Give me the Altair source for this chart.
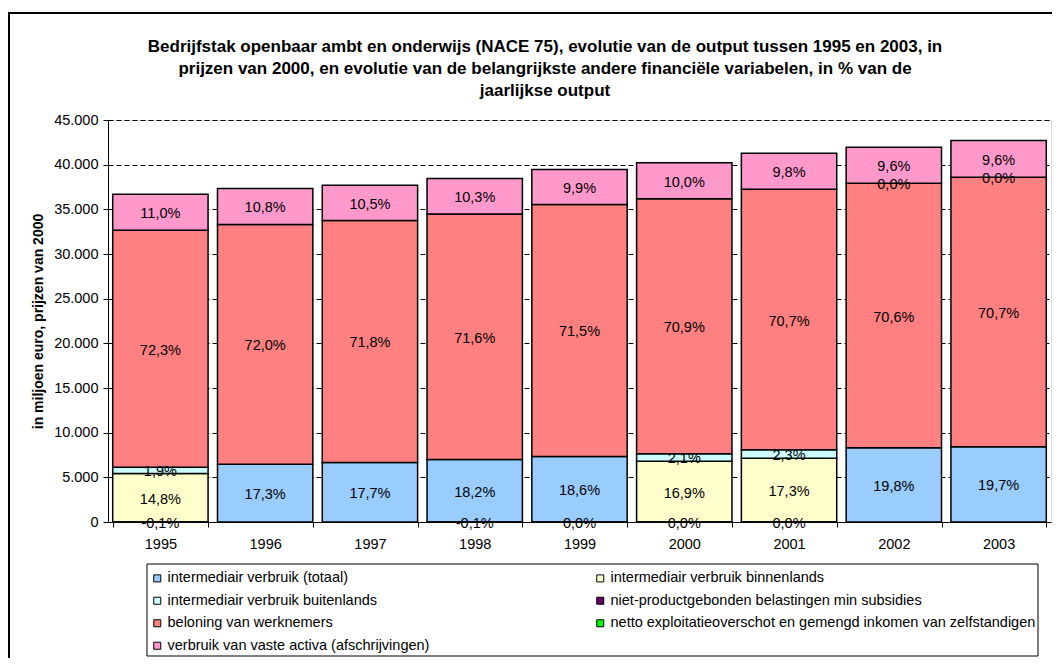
import altair as alt
import pandas as pd

# ---- data ----
years = ["1995", "1996", "1997", "1998", "1999", "2000", "2001", "2002", "2003"]
output_total = [36700, 37300, 37700, 38400, 39450, 40250, 41250, 41950, 42700]  # miljoen euro

series = [
    "intermediair verbruik (totaal)",
    "intermediair verbruik binnenlands",
    "intermediair verbruik buitenlands",
    "niet-productgebonden belastingen min subsidies",
    "beloning van werknemers",
    "netto exploitatieoverschot en gemengd inkomen van zelfstandigen",
    "verbruik van vaste activa (afschrijvingen)",
]
colors = ["#99CCFF", "#FFFFCC", "#CCFFFF", "#660066", "#FF8080", "#00FF00", "#FF99CC"]

pct_totaal = [None, 17.3, 17.7, 18.2, 18.6, None, None, 19.8, 19.7]
pct_binnen = [14.8, None, None, None, None, 16.9, 17.3, None, None]
pct_buiten = [1.9, None, None, None, None, 2.1, 2.3, None, None]
pct_niet = [-0.1, None, None, -0.1, -0.04, -0.04, -0.04, None, None]
pct_beloning = [72.3, 72.0, 71.8, 71.6, 71.5, 70.9, 70.7, 70.6, 70.7]
pct_netto = [None, None, None, None, None, None, None, 0.0, 0.0]
pct_afschr = [11.0, 10.8, 10.5, 10.3, 9.9, 10.0, 9.8, 9.6, 9.6]

all_pct = [pct_totaal, pct_binnen, pct_buiten, pct_niet, pct_beloning, pct_netto, pct_afschr]

rows = []
for s, (name, pcts) in enumerate(zip(series, all_pct)):
    for i, y in enumerate(years):
        p = pcts[i]
        if p is None:
            continue
        rows.append({"year": y, "series": name, "order": s, "pct": p,
                     "value": p / 100.0 * output_total[i]})
df = pd.DataFrame(rows)

# legend fills column by column: order so that rows read pairwise as in the reference
legend_order = [0, 2, 4, 6, 1, 3, 5]
legend_domain = [series[i] for i in legend_order]
legend_range = [colors[i] for i in legend_order]

title_lines = [
    "Bedrijfstak openbaar ambt en onderwijs (NACE 75), evolutie van de output tussen 1995 en 2003, in",
    "prijzen van 2000, en evolutie van de belangrijkste andere financiële variabelen, in % van de",
    "jaarlijkse output",
]

FONT = "Liberation Sans"
W, H = 943, 402

base = alt.Chart(df).transform_stack(
    stack="value", groupby=["year"], as_=["y0", "y1"],
    sort=[alt.SortField("order", order="ascending")]
).transform_calculate(
    mid="(datum.y0 + datum.y1) / 2",
    label="replace(replace(format(abs(datum.pct) < 0.05 ? 0 : datum.pct, '.1f'), '.', ','), '\u2212', '-') + '%'",
)

xenc = alt.X("year:N", sort=years, title=None,
             scale=alt.Scale(paddingInner=0.09, paddingOuter=0.045),
             axis=alt.Axis(labelAngle=0, tickBand="extent", tickSize=5, tickColor="black",
                           domainColor="black", labelFontSize=14.5, labelFont=FONT,
                           labelColor="black", labelPadding=10, grid=False))

bars = base.mark_bar(stroke="black", strokeWidth=1.5).encode(
    x=xenc,
    y=alt.Y("y0:Q", title="in miljoen euro, prijzen van 2000",
            scale=alt.Scale(domain=[0, 45000], nice=False),
            axis=alt.Axis(values=list(range(0, 45001, 5000)),
                          labelExpr="replace(format(datum.value, ',d'), ',', '.')",
                          labelFontSize=14.5, labelFont=FONT, labelColor="black",
                          labelPadding=5, tickSize=5, tickColor="black",
                          domainColor="black", grid=True, gridColor="black",
                          gridDash=[5, 3], gridWidth=1,
                          titleFont=FONT, titleFontSize=14, titleFontWeight="bold",
                          titleColor="black", titleX=-70, titleY=H / 2,
                          titleAngle=-90, titleAlign="center", titleBaseline="middle")),
    y2="y1:Q",
    color=alt.Color("series:N",
                    scale=alt.Scale(domain=legend_domain, range=legend_range),
                    legend=alt.Legend(orient="none", legendX=42, legendY=451, title=None,
                                      columns=2, columnPadding=163, rowPadding=7.5,
                                      symbolType="square", symbolSize=49,
                                      symbolStrokeColor="black", symbolStrokeWidth=1,
                                      labelFont=FONT, labelFontSize=14.5, labelColor="black",
                                      labelLimit=600, labelOffset=3, padding=0)),
)

texts = base.mark_text(font=FONT, fontSize=14.5, color="black",
                       align="center", baseline="middle", dy=2).encode(
    x=alt.X("year:N", sort=years),
    y=alt.Y("mid:Q"),
    text="label:N",
)

one = pd.DataFrame({"k": [0]})
frame = alt.Chart(one).mark_rect(fill="transparent", stroke="black", strokeWidth=2).encode(
    x=alt.value(-99), x2=alt.value(1200), y=alt.value(-107), y2=alt.value(700))
legend_box = alt.Chart(one).mark_rect(fill="white", stroke="black", strokeWidth=1).encode(
    x=alt.value(39), x2=alt.value(930), y=alt.value(444), y2=alt.value(536))
title = alt.Chart(one).mark_text(font=FONT, fontSize=17, fontWeight="bold", color="black",
                                 align="center", baseline="alphabetic", lineHeight=22).encode(
    x=alt.value(437), y=alt.value(-68), text=alt.value(title_lines))

chart = alt.layer(frame, legend_box, title, bars, texts).properties(
    width=W, height=H,
    autosize=alt.AutoSizeParams(type="none"),
    padding={"left": 100, "top": 112, "right": 1, "bottom": 136},
).configure_view(
    fill="#C0C0C0", stroke="#808080", strokeWidth=1
).configure(
    background="white",
    locale={"number": {"decimal": ",", "thousands": ".", "grouping": [3],
                       "currency": ["€", ""], "minus": "-"}},
)

chart.save("out.html", embed_options={"renderer": "svg", "actions": False})
